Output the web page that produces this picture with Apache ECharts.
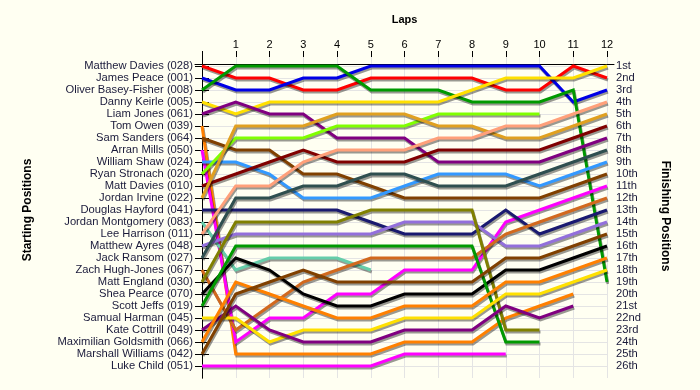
<!DOCTYPE html>
<html><head><meta charset="utf-8">
<script src="https://cdn.jsdelivr.net/npm/echarts@6/dist/echarts.min.js"></script>
<style>html,body{margin:0;padding:0;background:#FFFFF2}#c{width:700px;height:390px}</style>
</head><body><div id="c"></div>
<script>
// ---------- data ----------
const laps = [0,1,2,3,4,5,6,7,8,9,10,11,12];
const lapLabels = ['', '1','2','3','4','5','6','7','8','9','10','11','12'];
const drivers = [
  'Matthew Davies (028)','James Peace (001)','Oliver Basey-Fisher (008)','Danny Keirle (005)',
  'Liam Jones (061)','Tom Owen (039)','Sam Sanders (064)','Arran Mills (050)','William Shaw (024)',
  'Ryan Stronach (020)','Matt Davies (010)','Jordan Irvine (022)','Douglas Hayford (041)',
  'Jordan Montgomery (083)','Lee Harrison (011)','Matthew Ayres (048)','Jack Ransom (027)',
  'Zach Hugh-Jones (067)','Matt England (030)','Shea Pearce (070)','Scott Jeffs (019)',
  'Samual Harman (045)','Kate Cottrill (049)','Maximilian Goldsmith (066)','Marshall Williams (042)',
  'Luke Child (051)'
];
const finishLabels = ['1st','2nd','3rd','4th','5th','6th','7th','8th','9th','10th','11th','12th','13th',
  '14th','15th','16th','17th','18th','19th','20th','21st','22nd','23rd','24th','25th','26th'];

// position at laps 0..12 (null = retired)
const posMatthewDavies   = [1,2,2,3,3,2,2,2,2,3,3,1,2];
const posJamesPeace      = [2,3,3,2,2,1,1,1,1,1,1,4,3];
const posOliverBasey     = [3,1,1,1,1,3,3,3,4,4,4,3,19];
const posDannyKeirle     = [4,5,4,4,4,4,4,4,3,2,2,2,1];
const posLiamJones       = [5,4,5,5,7,7,7,9,9,9,9,8,7];
const posTomOwen         = [6,25,25,25,25,25,24,24,24,22,21,20,null];
const posSamSanders      = [7,8,8,10,10,11,12,12,12,12,12,11,10];
const posArranMills      = [8,24,22,22,20,20,18,18,18,14,13,12,11];
const posWilliamShaw     = [9,9,10,12,12,12,11,10,10,10,11,10,9];
const posRyanStronach    = [10,7,7,7,6,6,6,5,5,5,5,null,null];
const posMattDavies      = [11,10,9,8,9,9,9,8,8,8,8,7,6];
const posJordanIrvine    = [12,6,6,6,5,5,5,6,6,7,7,6,5];
const posDouglasHayford  = [13,13,13,13,13,14,15,15,15,13,15,14,13];
const posJordanMont      = [14,18,17,17,17,18,null,null,null,null,null,null,null];
const posLeeHarrison     = [15,11,11,9,8,8,8,7,7,6,6,5,4];
const posMatthewAyres    = [16,15,15,15,15,15,14,14,14,16,16,15,14];
const posJackRansom      = [17,12,12,11,11,10,10,11,11,11,10,9,8];
const posZachHughJones   = [18,23,21,19,18,17,17,17,17,15,14,13,12];
const posMattEngland     = [19,14,14,14,14,13,13,13,13,23,23,null,null];
const posSheaPearce      = [20,17,18,20,21,21,20,20,20,18,18,17,16];
const posScottJeffs      = [21,16,16,16,16,16,16,16,16,24,24,null,null];
const posSamualHarman    = [22,22,24,23,23,23,22,22,22,20,20,19,18];
const posKateCottrill    = [23,21,23,24,24,24,23,23,23,21,22,21,null];
const posMaxGoldsmith    = [24,19,20,21,22,22,21,21,21,19,19,18,17];
const posMarshallWilliams= [25,20,19,18,19,19,19,19,19,17,17,16,15];
const posLukeChild       = [26,26,26,26,26,26,25,25,25,25,null,null,null];

const driverPositions = [posMatthewDavies,posJamesPeace,posOliverBasey,posDannyKeirle,posLiamJones,
  posTomOwen,posSamSanders,posArranMills,posWilliamShaw,posRyanStronach,posMattDavies,posJordanIrvine,
  posDouglasHayford,posJordanMont,posLeeHarrison,posMatthewAyres,posJackRansom,posZachHughJones,
  posMattEngland,posSheaPearce,posScottJeffs,posSamualHarman,posKateCottrill,posMaxGoldsmith,
  posMarshallWilliams,posLukeChild];

// ---------- style ----------
const palette = ['#FF0000','#0000E6','#009900','#FFE000','#800080','#FF8000','#804000','#FF00FF',
  '#3399FF','#80FF00','#800000','#E0A020','#1A1A70','#66CDAA','#FFA07A','#9370DB','#2F4F4F',
  '#D2691E','#808000','#000000','#009900','#FFE000','#800080','#FF8000','#804000','#FF00FF'];
const FONT = 'Arial, "Liberation Sans", sans-serif';
const posTicks = drivers.map((d, i) => i + 1);

const chart = echarts.init(document.getElementById('c'), null, {renderer: 'canvas'});
const series = drivers.map((name, i) => ({
  type: 'line',
  name: name,
  xAxisIndex: 0, yAxisIndex: 0,
  data: laps.map((l, k) => [l, driverPositions[i][k]]).filter(d => d[1] != null),
  symbol: 'none', showSymbol: false, silent: true,
  lineStyle: {width: 3, color: palette[i], join: 'miter',
    shadowColor: 'rgba(0,0,0,0.4)', shadowOffsetX: 1, shadowOffsetY: 2, shadowBlur: 0},
  itemStyle: {color: palette[i]}
}));

chart.setOption({
  backgroundColor: '#FFFFF2',
  animation: false,
  grid: [
    {left: 202, right: 93, top: 54, bottom: 12},
    {left: 195, right: 86, top: 54, height: 10}
  ],
  xAxis: [
    {type: 'value', gridIndex: 0, position: 'top', min: 0, max: 12, interval: 1,
     name: 'Laps', nameLocation: 'middle', nameGap: 29,
     nameTextStyle: {fontFamily: FONT, fontSize: 11, fontWeight: 'bold', color: '#000'},
     axisLine: {show: false},
     axisTick: {show: true, length: 3, lineStyle: {color: '#000'}},
     axisLabel: {fontFamily: FONT, fontSize: 11, color: '#000', margin: 4,
       formatter: v => lapLabels[v] || ''},
     splitLine: {show: true, lineStyle: {color: '#E4E4E4', width: 1}}},
    {type: 'value', gridIndex: 0, position: 'top', min: 0, max: 12, interval: 1,
     axisLine: {show: false}, axisLabel: {show: false}, splitLine: {show: false},
     axisTick: {show: true, inside: true, length: 3, lineStyle: {color: '#000'}}},
    {type: 'value', gridIndex: 1, position: 'top', min: 0, max: 1,
     axisLine: {show: true, lineStyle: {color: '#000', width: 1}},
     axisTick: {show: false}, axisLabel: {show: false}, splitLine: {show: false}}
  ],
  yAxis: [
    {type: 'value', gridIndex: 0, inverse: true, min: 0, max: 27, interval: 1, position: 'left',
     name: 'Starting Positions', nameLocation: 'middle', nameGap: 168,
     nameTextStyle: {fontFamily: FONT, fontSize: 12, fontWeight: 'bold', color: '#000', padding: [0, 0, 0, 12]},
     axisLine: {show: true, lineStyle: {color: '#000', width: 1}},
     axisTick: {show: true, length: 7, customValues: posTicks, lineStyle: {color: '#000'}},
     axisLabel: {fontFamily: FONT, fontSize: 11.2, color: '#1A1A3A', margin: 9, customValues: posTicks,
       formatter: v => drivers[v - 1] || ''},
     splitLine: {show: true, lineStyle: {color: '#E4E4E4', width: 1}}},
    {type: 'value', gridIndex: 0, inverse: true, min: 0, max: 27, interval: 1, position: 'right',
     name: 'Finishing Positions', nameLocation: 'middle', nameGap: 52, nameRotate: -90,
     nameTextStyle: {fontFamily: FONT, fontSize: 12, fontWeight: 'bold', color: '#000'},
     axisLine: {show: true, lineStyle: {color: '#000', width: 1}},
     axisTick: {show: true, length: 7, customValues: posTicks, lineStyle: {color: '#000'}},
     axisLabel: {fontFamily: FONT, fontSize: 11.2, color: '#1A1A3A', margin: 9, customValues: posTicks,
       formatter: v => finishLabels[v - 1] || ''},
     splitLine: {show: false}},
    {type: 'value', gridIndex: 1, show: false, min: 0, max: 1}
  ],
  series: series
});
</script></body></html>
